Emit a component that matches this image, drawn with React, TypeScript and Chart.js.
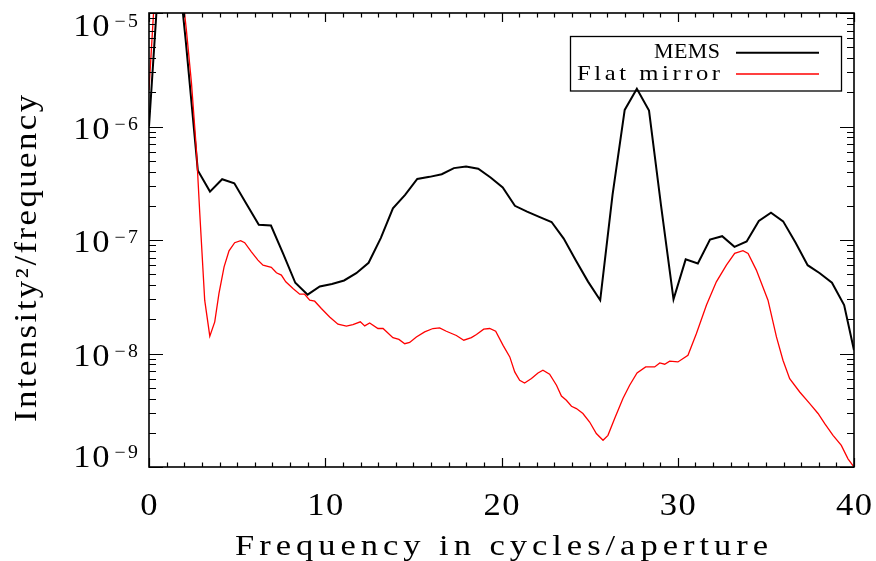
import { useEffect, useRef } from "react";
import { Chart, registerables } from "chart.js";

Chart.register(...registerables);

// MEMS spectrum, sampled on a uniform frequency grid (cycles/aperture)
const memsFreq = [
  0, 0.69, 1.38, 2.08, 2.77, 3.46, 4.15, 4.84, 5.54, 6.23, 6.92, 7.61, 8.3, 9.0, 9.69,
  10.38, 11.07, 11.76, 12.46, 13.15, 13.84, 14.53, 15.22, 15.92, 16.61, 17.3, 17.99,
  18.68, 19.38, 20.07, 20.76, 21.45, 22.14, 22.84, 23.53, 24.22, 24.91, 25.6, 26.3,
  26.99, 27.68, 28.37, 29.06, 29.76, 30.45, 31.14, 31.83, 32.52, 33.22, 33.91, 34.6,
  35.29, 35.98, 36.68, 37.37, 38.06, 38.75, 39.44, 40.0,
];
const memsPower = [
  1.0e-6, 4.4e-5, 6.6e-5, 5.8e-6, 4.1e-7, 2.67e-7, 3.43e-7, 3.16e-7, 2.07e-7, 1.36e-7,
  1.34e-7, 7.6e-8, 4.2e-8, 3.3e-8, 3.9e-8, 4.1e-8, 4.4e-8, 5.1e-8, 6.3e-8, 1.04e-7,
  1.9e-7, 2.5e-7, 3.45e-7, 3.6e-7, 3.8e-7, 4.3e-7, 4.45e-7, 4.25e-7, 3.55e-7, 2.9e-7,
  2.0e-7, 1.78e-7, 1.6e-7, 1.44e-7, 1.03e-7, 6.6e-8, 4.3e-8, 2.95e-8, 2.5e-7, 1.4e-6,
  2.15e-6, 1.38e-6, 1.97e-7, 3.0e-8, 6.75e-8, 6.2e-8, 1.01e-7, 1.08e-7, 8.7e-8, 9.7e-8,
  1.47e-7, 1.74e-7, 1.46e-7, 9.5e-8, 6.0e-8, 5.1e-8, 4.2e-8, 2.67e-8, 1.07e-8,
];

// Flat mirror spectrum (finer sampling)
const flatFreq = [
  0, 0.3, 1.1, 2.0, 2.12, 2.41, 2.69, 2.88, 3.16, 3.45, 3.73, 3.97, 4.26, 4.54, 4.86,
  5.2, 5.43, 5.81, 6.18, 6.47, 6.94, 7.23, 7.51, 7.76, 8.17, 8.55, 8.83, 9.12, 9.4, 9.78,
  10.25, 10.72, 11.2, 11.57, 11.99, 12.24, 12.52, 12.99, 13.28, 13.84, 14.18, 14.51,
  14.79, 15.17, 15.64, 16.11, 16.49, 16.87, 17.44, 17.86, 18.29, 18.58, 18.99, 19.33,
  19.67, 20.09, 20.47, 20.75, 21.03, 21.31, 21.7, 22.07, 22.35, 22.73, 23.12, 23.4,
  23.68, 23.97, 24.25, 24.62, 25.0, 25.38, 25.76, 26.04, 26.42, 26.89, 27.27, 27.69,
  28.18, 28.69, 28.98, 29.26, 29.54, 30.01, 30.58, 31.06, 31.63, 32.19, 32.76, 33.23,
  33.7, 33.99, 34.46, 35.12, 35.6, 35.97, 36.35, 36.92, 37.49, 37.96, 38.34, 38.81,
  39.28, 39.66, 40,
];
const flatPower = [
  2.1e-6, 1.3e-5, 6e-5, 1.05e-5, 7.1e-6, 2.42e-6, 6.2e-7, 1.73e-7, 2.95e-8, 1.42e-8,
  1.9e-8, 3.38e-8, 5.8e-8, 8.04e-8, 9.46e-8, 9.86e-8, 9.46e-8, 7.87e-8, 6.65e-8, 6.01e-8,
  5.74e-8, 5.14e-8, 4.91e-8, 4.28e-8, 3.74e-8, 3.33e-8, 3.33e-8, 2.95e-8, 2.89e-8, 2.49e-8,
  2.1e-8, 1.81e-8, 1.74e-8, 1.8e-8, 1.9e-8, 1.75e-8, 1.86e-8, 1.66e-8, 1.66e-8, 1.38e-8,
  1.33e-8, 1.22e-8, 1.25e-8, 1.4e-8, 1.55e-8, 1.66e-8, 1.68e-8, 1.57e-8, 1.44e-8, 1.31e-8,
  1.38e-8, 1.47e-8, 1.64e-8, 1.66e-8, 1.57e-8, 1.18e-8, 9.33e-9, 6.89e-9, 5.81e-9, 5.5e-9,
  6.01e-9, 6.74e-9, 7.13e-9, 6.57e-9, 5.25e-9, 4.22e-9, 3.87e-9, 3.43e-9, 3.27e-9, 2.96e-9,
  2.49e-9, 1.97e-9, 1.72e-9, 1.9e-9, 2.67e-9, 4.01e-9, 5.25e-9, 6.74e-9, 7.62e-9, 7.62e-9,
  8.26e-9, 8.05e-9, 8.55e-9, 8.43e-9, 9.66e-9, 1.5e-8, 2.67e-8, 4.28e-8, 6.01e-8, 7.62e-8,
  8.04e-8, 7.62e-8, 5.43e-8, 2.95e-8, 1.4e-8, 8.73e-9, 6.01e-9, 4.58e-9, 3.62e-9, 2.96e-9,
  2.41e-9, 1.9e-9, 1.55e-9, 1.18e-9, 1.0e-9,
];

const seriesNames = ["MEMS", "Flat mirror"];
const seriesColors = ["#000000", "#ff0000"];
const xTickValues = [0, 10, 20, 30, 40];
const yDecades = [-9, -8, -7, -6, -5];
const xTitle = "Frequency in cycles/aperture";
const yTitle = "Intensity\u00B2/frequency";

const SERIF = '"Liberation Serif", "Times New Roman", serif';

type Align = "left" | "center" | "right";

// Draws text with extra tracking and an optional horizontal stretch; returns its width
function drawSpaced(
  ctx: CanvasRenderingContext2D,
  text: string,
  x: number,
  y: number,
  ls: number,
  align: Align,
  sx = 1
): number {
  (ctx as any).letterSpacing = "0px";
  const n = Array.from(text).length;
  const w = ctx.measureText(text).width * sx + ls * (n - 1);
  const left = align === "center" ? x - w / 2 : align === "right" ? x - w : x;
  ctx.save();
  ctx.translate(left, y);
  ctx.scale(sx, 1);
  (ctx as any).letterSpacing = `${ls / sx}px`;
  ctx.textAlign = "left";
  ctx.fillText(text, 0, 0);
  ctx.restore();
  (ctx as any).letterSpacing = "0px";
  return w;
}

function drawFitted(
  ctx: CanvasRenderingContext2D,
  text: string,
  x: number,
  y: number,
  width: number,
  align: Align,
  sx = 1
) {
  (ctx as any).letterSpacing = "0px";
  const w0 = ctx.measureText(text).width * sx;
  const n = Array.from(text).length;
  const ls = n > 1 ? (width - w0) / (n - 1) : 0;
  drawSpaced(ctx, text, x, y, ls, align, sx);
}

// Boxed axes with inward ticks on all four sides, labels, titles and legend
const framePlugin = {
  id: "boxedAxes",
  afterDatasetsDraw(chart: any) {
    const { ctx, chartArea: a, scales } = chart;
    const xs = scales.x;
    const ys = scales.y;
    ctx.save();
    ctx.strokeStyle = "#000";
    ctx.fillStyle = "#000";
    ctx.textBaseline = "alphabetic";

    // x ticks (major every 10, minor every 1)
    ctx.lineWidth = 1.2;
    ctx.beginPath();
    for (let f = xs.min; f <= xs.max; f += 1) {
      const px = Math.round(xs.getPixelForValue(f)) + 0.5;
      const len = xTickValues.includes(f) ? 9 : 4.5;
      ctx.moveTo(px, a.bottom);
      ctx.lineTo(px, a.bottom - len);
      ctx.moveTo(px, a.top);
      ctx.lineTo(px, a.top + len);
    }
    // y ticks (decades and 2..9 minors)
    for (const d of yDecades) {
      for (let m = 1; m <= 9; m++) {
        const v = m * Math.pow(10, d);
        if (v > ys.max * 1.0001) break;
        const py = Math.round(ys.getPixelForValue(v)) + 0.5;
        const len = m === 1 ? 14 : 7;
        ctx.moveTo(a.left, py);
        ctx.lineTo(a.left + len, py);
        ctx.moveTo(a.right, py);
        ctx.lineTo(a.right - len, py);
      }
    }
    ctx.stroke();

    ctx.lineWidth = 1.6;
    ctx.strokeRect(a.left, a.top, a.right - a.left, a.bottom - a.top);

    // x tick labels
    ctx.font = `32px ${SERIF}`;
    for (const t of xTickValues) {
      drawSpaced(ctx, String(t), xs.getPixelForValue(t), a.bottom + 48, 1.5, "center", 1.08);
    }

    // y tick labels as 10 with a raised exponent
    const top = Math.max(...yDecades);
    const bottom = Math.min(...yDecades);
    const rightEdge = a.left - 11;
    for (const d of yDecades) {
      const py = ys.getPixelForValue(Math.pow(10, d));
      let base = py + 12.3;
      if (d === top) base = py + 22.7;
      if (d === bottom) base = py - 0.5;
      ctx.font = `18px ${SERIF}`;
      const ew = drawSpaced(ctx, `\u2212${-d}`, rightEdge, base - 9, 2.5, "right", 1.1);
      ctx.font = `32px ${SERIF}`;
      drawSpaced(ctx, "10", rightEdge - ew - 5, base, 1.5, "right", 1.08);
    }

    // axis titles
    ctx.font = `30px ${SERIF}`;
    drawFitted(ctx, xTitle, (a.left + a.right) / 2, 555, 533, "center", 1.15);

    ctx.save();
    ctx.translate(36, 258.5);
    ctx.rotate(-Math.PI / 2);
    ctx.font = `31px ${SERIF}`;
    drawFitted(ctx, yTitle, 0, 0, 327, "center", 1.12);
    ctx.restore();

    // legend box
    const bx = 570.5;
    const by = 36.5;
    ctx.lineWidth = 1.3;
    ctx.strokeRect(bx, by, 271, 54.5);
    ctx.font = `22px ${SERIF}`;
    const rows = [
      { base: 58.3, lineY: 52.7, width: 66, sx: 1.0 },
      { base: 80, lineY: 74, width: 143, sx: 1.12 },
    ];
    chart.data.datasets.forEach((ds: any, i: number) => {
      const r = rows[i];
      ctx.fillStyle = "#000";
      drawFitted(ctx, ds.label, 720, r.base, r.width, "right", r.sx);
      ctx.strokeStyle = ds.borderColor;
      ctx.lineWidth = ds.borderWidth;
      ctx.beginPath();
      ctx.moveTo(736, r.lineY);
      ctx.lineTo(819, r.lineY);
      ctx.stroke();
    });

    ctx.restore();
  },
};

export default function App() {
  const ref = useRef<HTMLCanvasElement>(null);

  useEffect(() => {
    if (!ref.current) return;
    const chart = new Chart(ref.current, {
      type: "line",
      data: {
        datasets: [
          {
            label: seriesNames[0],
            data: memsFreq.map((f, i) => ({ x: f, y: memsPower[i] })),
            borderColor: seriesColors[0],
            borderWidth: 2,
            pointRadius: 0,
            tension: 0,
            clip: 0,
            order: 1,
          },
          {
            label: seriesNames[1],
            data: flatFreq.map((f, i) => ({ x: f, y: flatPower[i] })),
            borderColor: seriesColors[1],
            borderWidth: 1.3,
            pointRadius: 0,
            tension: 0,
            clip: 0,
            order: 0,
          },
        ],
      },
      options: {
        responsive: false,
        maintainAspectRatio: false,
        animation: false,
        devicePixelRatio: 1,
        layout: { padding: { left: 149, right: 22, top: 13, bottom: 94 } },
        scales: {
          x: { type: "linear", min: 0, max: 40, display: false },
          y: { type: "logarithmic", min: 1e-9, max: 1e-5, display: false },
        },
        plugins: {
          legend: { display: false },
          tooltip: { enabled: false },
        },
      },
      plugins: [framePlugin],
    } as any);
    return () => chart.destroy();
  }, []);

  return (
    <div
      style={{
        position: "fixed",
        left: 0,
        top: 0,
        width: 876,
        height: 561,
        background: "#fff",
      }}
    >
      <canvas ref={ref} width={876} height={561} style={{ display: "block" }} />
    </div>
  );
}
